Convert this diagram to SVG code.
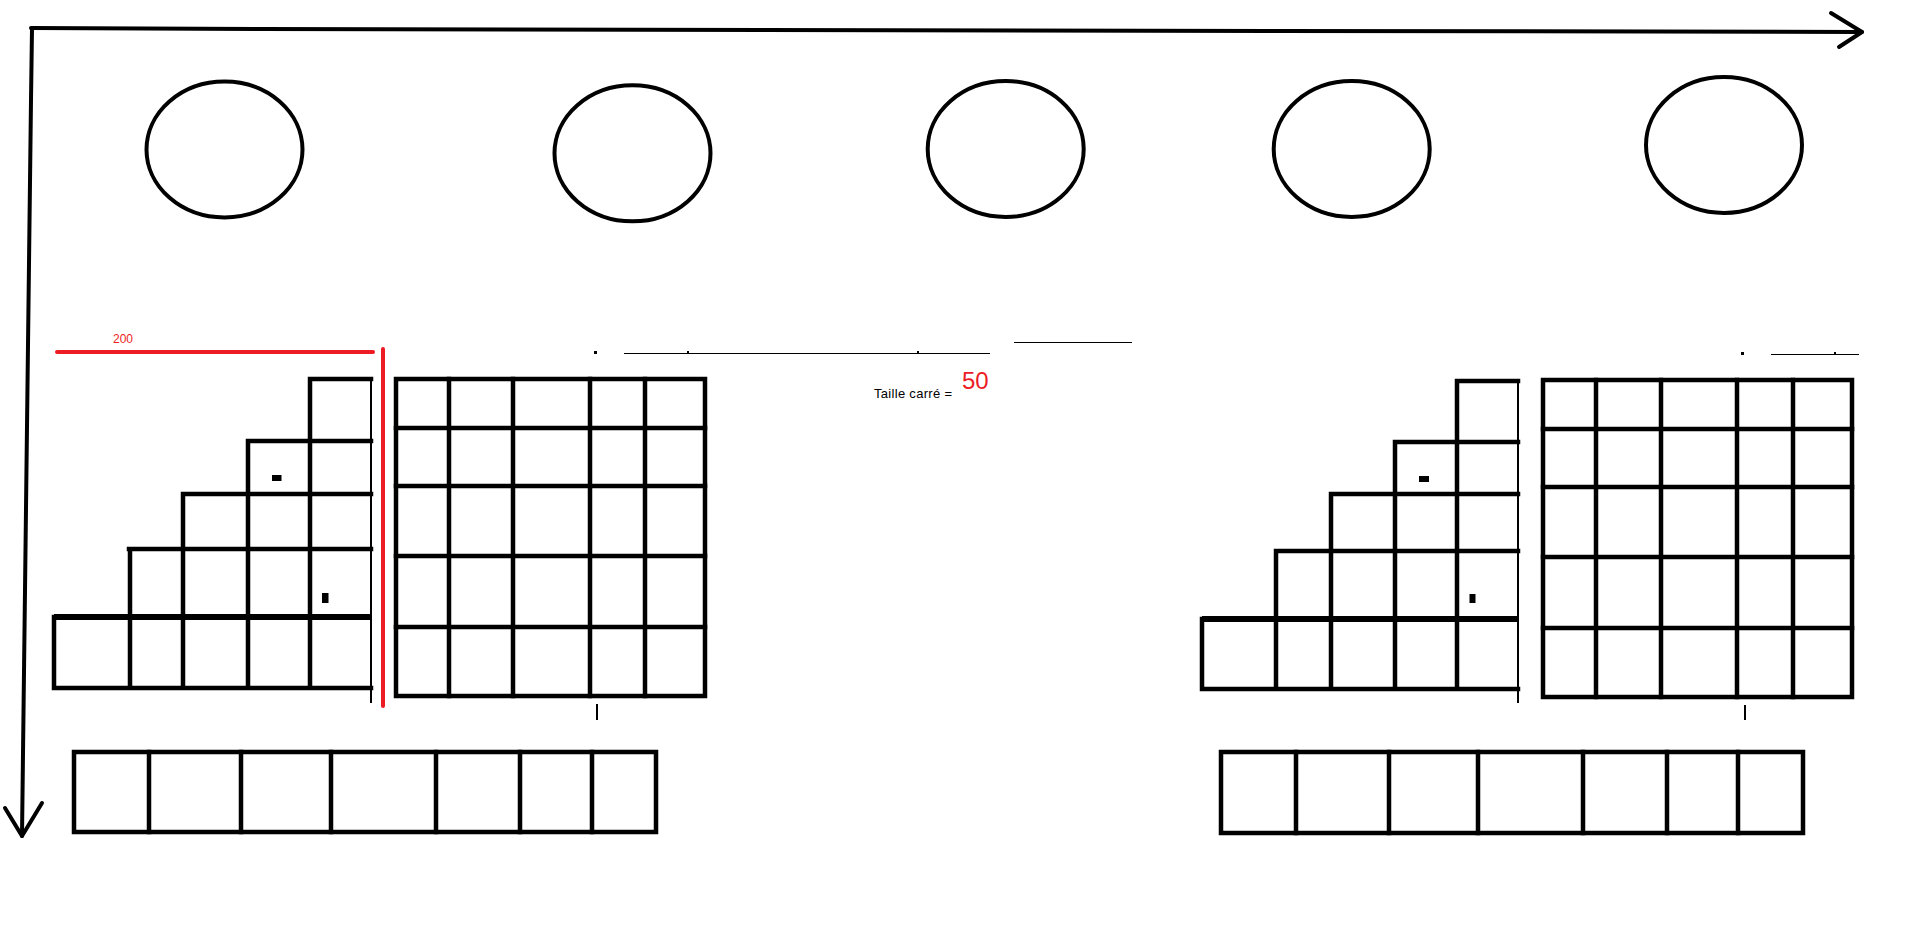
<svg xmlns="http://www.w3.org/2000/svg" width="1914" height="935" viewBox="0 0 1914 935">
<style>
.k{fill:none;stroke:#000;stroke-width:4.5;stroke-linecap:square}
.kt{fill:none;stroke:#000;stroke-width:2}
.h{fill:none;stroke:#000;stroke-width:1}
.c{fill:none;stroke:#000;stroke-width:4}
.r{fill:none;stroke:#ed1c24;stroke-width:4;stroke-linecap:round}
.ax{fill:none;stroke:#000;stroke-width:4;stroke-linecap:round;stroke-linejoin:round}
.m{fill:#000}
.lbl{font-family:"Liberation Sans",Arial,sans-serif}
</style>
<rect width="1914" height="935" fill="#fff"/>
<g id="connectors">
<path class="ax" d="M31 28 L260 29 L1862 32"/>
<path class="ax" d="M1831 13 L1862 32 L1839 47"/>
<path class="ax" d="M32 29 L31 100 L22 836"/>
<path class="ax" d="M5 808 L22 836 L42 803"/>
</g>
<g id="circle1"><ellipse class="c" cx="224.5" cy="149.5" rx="78" ry="68"/></g>
<g id="circle2"><ellipse class="c" cx="632.5" cy="153.3" rx="78" ry="68"/></g>
<g id="circle3"><ellipse class="c" cx="1005.7" cy="149" rx="78" ry="68"/></g>
<g id="circle4"><ellipse class="c" cx="1351.7" cy="149" rx="78" ry="68"/></g>
<g id="circle5"><ellipse class="c" cx="1724" cy="145" rx="78" ry="68"/></g>
<g id="measure">
<path class="r" d="M57 352 L373 352"/>
<path class="r" d="M383 349 L383 706"/>
<text class="lbl" x="113" y="343" font-size="12" fill="#ed1c24">200</text>
</g>
<g id="stair-left">
<path class="k" d="M310 379H371 M249 441H371 M184 494H371 M129 549H371 M54 688H371 M54 617V688 M130 549V688 M183 494V688 M248 441V688 M310 379V688"/>
<path d="M54 617H371" fill="none" stroke="#000" stroke-width="6"/>
<path class="kt" d="M371 378V703"/>
<rect class="m" x="272" y="475" width="9.5" height="6"/>
<rect class="m" x="322" y="593" width="6.5" height="10"/>
</g>
<g id="grid-left">
<rect class="k" x="396" y="379" width="309" height="317"/>
<path class="k" d="M449 379V696 M513 379V696 M590 379V696 M645 379V696 M396 428H705 M396 486H705 M396 556H705 M396 627H705"/>
<path class="kt" d="M597 704V720"/>
</g>
<g id="top-lines">
<rect class="m" x="594" y="351" width="3" height="3"/>
<path class="h" d="M624 353.5H990 M1014 342.5H1132 M1771 354.5H1859"/>
<rect class="m" x="687" y="351" width="2" height="2"/>
<rect class="m" x="917" y="351" width="2" height="2"/>
<rect class="m" x="1741" y="352" width="3" height="3"/>
<rect class="m" x="1834" y="352" width="2" height="2"/>
</g>
<g id="size-label">
<text class="lbl" x="874" y="398" font-size="13" fill="#000" textLength="78">Taille carré =</text>
<text class="lbl" x="962" y="389" font-size="24" fill="#ed1c24">50</text>
</g>
<g id="stair-right">
<path class="k" d="M1457 381H1518 M1395 442H1518 M1331 494H1518 M1276 551H1518 M1202 689H1518 M1202 619V689 M1276 551V689 M1331 494V689 M1395 442V689 M1457 381V689"/>
<path d="M1202 619H1518" fill="none" stroke="#000" stroke-width="6"/>
<path class="kt" d="M1518 379V703"/>
<rect class="m" x="1419" y="476" width="10" height="6"/>
<rect class="m" x="1469.5" y="594" width="6" height="9"/>
</g>
<g id="grid-right">
<rect class="k" x="1543" y="380" width="309" height="317"/>
<path class="k" d="M1596 380V697 M1661 380V697 M1737 380V697 M1793 380V697 M1543 429H1852 M1543 487H1852 M1543 557H1852 M1543 628H1852"/>
<path class="kt" d="M1745 705V720"/>
</g>
<g id="bar-left">
<rect class="k" x="74" y="752" width="582" height="80"/>
<path class="k" d="M149 752V832 M241 752V832 M331 752V832 M436 752V832 M520 752V832 M592 752V832"/>
</g>
<g id="bar-right">
<rect class="k" x="1221" y="752" width="582" height="81"/>
<path class="k" d="M1296 752V833 M1389 752V833 M1478 752V833 M1583 752V833 M1667 752V833 M1738 752V833"/>
</g>
</svg>
